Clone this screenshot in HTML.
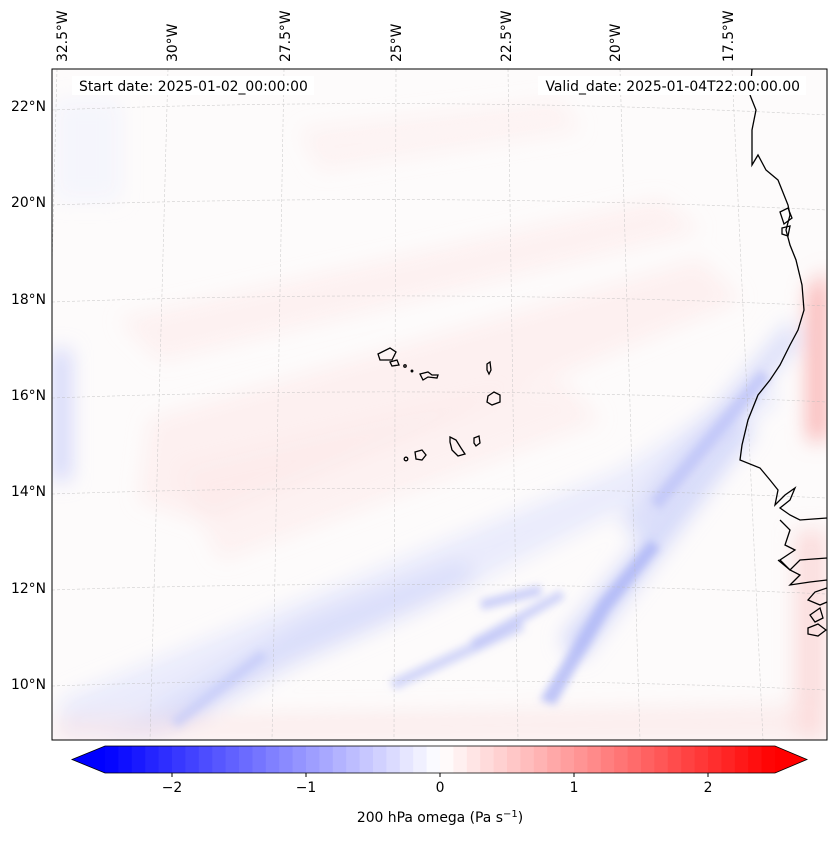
<!DOCTYPE html>
<html><head><meta charset="utf-8"><style>
body{margin:0;background:#fff;width:837px;height:839px;overflow:hidden;font-family:"Liberation Sans","DejaVu Sans",sans-serif}
svg text{font-family:"DejaVu Sans","Liberation Sans",sans-serif;font-size:13.9px;fill:#000}
</style></head><body>
<svg id="s" width="837" height="839">
<defs>
<clipPath id="mc"><rect x="52" y="69" width="775" height="671"/></clipPath>
<filter id="bl" x="-20%" y="-20%" width="140%" height="140%"><feGaussianBlur stdDeviation="10"/></filter>
<filter id="bl2" x="-20%" y="-20%" width="140%" height="140%"><feGaussianBlur stdDeviation="4"/></filter>
</defs>
<g clip-path="url(#mc)">
<rect x="52" y="69" width="775" height="671" fill="#fdfbfb"/>
<g filter="url(#bl)">
<path d="M120 320 L660 200 L700 230 L160 360Z" fill="#fde8e8" opacity="0.5"/>
<path d="M150 420 L700 260 L740 300 L200 520 L140 500Z" fill="#fde6e6" opacity="0.5"/>
<path d="M180 470 L560 380 L600 420 L220 560Z" fill="#fde4e4" opacity="0.45"/>
<path d="M300 130 L560 100 L580 130 L320 170Z" fill="#fde8e8" opacity="0.45"/>
<path d="M55 100 L120 100 L120 200 L55 200Z" fill="#eef0fd" opacity="0.5"/>
<path d="M52 350 L70 350 L70 480 L52 480Z" fill="#c8cdfa" opacity="0.85"/>
<path d="M808 290 L827 270 L827 440 L808 440Z" fill="#f9a8a8" opacity="0.9"/>
<path d="M795 530 L827 530 L827 740 L795 740Z" fill="#fbd0d0" opacity="0.7"/>
<path d="M60 700 L400 560 L620 470 L760 380 L780 400 L620 510 L420 610 L120 740 L60 740Z" fill="#e3e6fc" opacity="0.75"/>
<path d="M100 740 L300 620 L460 560 L480 580 L300 660 L160 740Z" fill="#d6daf9" opacity="0.75"/>
<path d="M560 640 L740 420 L755 430 L580 660Z" fill="#c6ccfa" opacity="0.75"/>
<path d="M620 520 L790 320 L800 340 L640 540Z" fill="#cfd4fa" opacity="0.75"/>
<path d="M52 718 L827 705 L827 740 L52 740Z" fill="#fbe0e0" opacity="0.5"/>
</g>
<g filter="url(#bl2)">
<path d="M540 700 L600 600 L650 540 L660 548 L610 610 L555 705Z" fill="#a9b1f6" opacity="0.75"/>
<path d="M470 640 L560 590 L565 598 L475 650Z" fill="#b6bdf8" opacity="0.65"/>
<path d="M390 680 L520 620 L525 630 L395 690Z" fill="#bdc3f8" opacity="0.65"/>
<path d="M480 600 L540 585 L542 595 L482 610Z" fill="#b0b8f7" opacity="0.65"/>
<path d="M170 720 L260 650 L268 658 L178 728Z" fill="#c2c8f9" opacity="0.65"/>
<path d="M650 500 L760 370 L770 378 L660 510Z" fill="#b8bff8" opacity="0.65"/>
</g>
</g>
<g clip-path="url(#mc)" stroke="#bbb" stroke-width="0.6" stroke-dasharray="3,2" fill="none" opacity="0.7">
<path d="M57 69 L40 740"/><path d="M168 69 L150 740"/><path d="M284 69 L272 740"/><path d="M396 69 L394 740"/><path d="M508 69 L518 740"/><path d="M620 69 L640 740"/><path d="M732 69 L763 740"/>
<path d="M52 110 Q440 95 827 115"/><path d="M52 205 Q440 192 827 210"/><path d="M52 302 Q440 288 827 306"/><path d="M52 398 Q440 384 827 402"/><path d="M52 494 Q440 481 827 498"/><path d="M52 590 Q440 577 827 594"/><path d="M52 686 Q440 673 827 690"/>
</g>
<g clip-path="url(#mc)" fill="none" stroke="#000" stroke-width="1.3">
<path d="M752 69 L750 95 L756 110 L752 130 L752 165 L758 155 L766 170 L772 175 L778 180 L782 190 L788 205 L790 215 L786 230 L790 245 L796 260 L802 285 L804 310 L798 330 L790 345 L780 365 L770 380 L758 395 L748 420 L742 445 L740 460 L760 468 L770 480 L778 490 L775 505 L785 495 L795 488 L790 500 L780 508 L790 515 L800 520 L827 518"/>
<path d="M780 520 L790 530 L785 545 L795 550 L780 560 L790 570 L800 560 L827 558"/>
<path d="M778 560 L790 570 L800 575 L790 585 L810 582 L827 580"/>
<path d="M827 588 L815 592 L808 600 L820 605 L827 602"/>
<path d="M810 615 L820 608 L823 618 L815 622Z"/><path d="M808 628 L818 624 L826 630 L818 636 L808 634Z"/>
<path d="M780 212 L788 208 L792 218 L784 224Z"/><path d="M782 228 L790 226 L788 236 L782 234Z"/>
<path d="M378 354 L390 348 L396 352 L392 360 L380 360Z"/>
<path d="M390 362 L397 360 L399 365 L392 366Z"/>
<circle cx="405" cy="366" r="1.2"/><circle cx="412" cy="371" r="0.8"/>
<path d="M420 374 L428 372 L432 375 L438 375 L437 378 L428 377 L423 380Z"/>
<path d="M487 364 L490 362 L491 370 L489 374 L487 370Z"/>
<path d="M488 396 L494 392 L500 395 L500 402 L492 405 L487 402Z"/>
<path d="M450 437 L456 440 L461 448 L465 454 L458 456 L452 450 L450 442Z"/>
<path d="M474 438 L479 436 L480 443 L476 446 L474 443Z"/>
<path d="M415 452 L422 450 L426 455 L422 460 L416 459Z"/>
<circle cx="406" cy="459" r="1.8"/>
</g>
<rect x="52" y="69" width="775" height="671" fill="none" stroke="#000" stroke-width="1"/>
<rect x="72" y="76" width="242" height="19" fill="#fff"/>
<text x="79" y="91">Start date: 2025-01-02_00:00:00</text>
<rect x="538" y="76" width="268" height="19" fill="#fff"/>
<text x="800" y="91" text-anchor="end">Valid_date: 2025-01-04T22:00:00.00</text>
<g id="lon"></g>
<g id="lat"></g>
<g id="cb"></g>
<text x="440" y="822" text-anchor="middle">200 hPa omega (Pa s<tspan dy="-5" font-size="10">−1</tspan><tspan dy="5">)</tspan></text>
</svg>
<script>
const lonLabels=["32.5°W","30°W","27.5°W","25°W","22.5°W","20°W","17.5°W"];
const lonX=[62,172,285,396,506,615,728];
const latLabels=["22°N","20°N","18°N","16°N","14°N","12°N","10°N"];
const latY=[106,202,299,395,491,588,684];
const cbTicks=[-2,-1,0,1,2];
const cbMin=-2.5, cbMax=2.5, cbStep=0.1;
const NS="http://www.w3.org/2000/svg";
function mk(t,a,p){const e=document.createElementNS(NS,t);for(const k in a)e.setAttribute(k,a[k]);p.appendChild(e);return e;}
const lon=document.getElementById('lon');
lonLabels.forEach((l,i)=>{const t=mk('text',{x:0,y:0,transform:`translate(${lonX[i]+5},62) rotate(-90)`},lon);t.textContent=l;

});
const lat=document.getElementById('lat');
latLabels.forEach((l,i)=>{const t=mk('text',{x:46,y:latY[i]+5,'text-anchor':'end'},lat);t.textContent=l;

});
const cb=document.getElementById('cb');
const x0=105,x1=775,y0=746,y1=773;
const sx=v=>x0+(v-cbMin)/(cbMax-cbMin)*(x1-x0);
function col(v){const f=Math.min(1,Math.abs(v)/2.5);const c=Math.round(255*(1-f));return v<0?`rgb(${c},${c},255)`:`rgb(255,${c},${c})`;}
const n=Math.round((cbMax-cbMin)/cbStep);
for(let i=0;i<n;i++){const a=cbMin+i*cbStep;const mid=a+cbStep/2;
const r=mk('rect',{x:sx(a),y:y0,width:sx(a+cbStep)-sx(a)+0.5,height:y1-y0,fill:col(mid)},cb);

}
const lt=mk('polygon',{points:`${x0},${y0} 72,${(y0+y1)/2} ${x0},${y1}`,fill:'rgb(0,0,255)'},cb);


const rt=mk('polygon',{points:`${x1},${y0} 807,${(y0+y1)/2} ${x1},${y1}`,fill:'rgb(255,0,0)'},cb);


mk('polygon',{points:`72,${(y0+y1)/2} ${x0},${y0} ${x1},${y0} 807,${(y0+y1)/2} ${x1},${y1} ${x0},${y1}`,fill:'none',stroke:'#000','stroke-width':0.8},cb);
cbTicks.forEach(v=>{const x=sx(v);mk('line',{x1:x,x2:x,y1:y1,y2:y1+4,stroke:'#000'},cb);
const t=mk('text',{x:x,y:y1+19,'text-anchor':'middle'},cb);t.textContent=v<0?'−'+Math.abs(v):String(v);

});
</script>
</body></html>
